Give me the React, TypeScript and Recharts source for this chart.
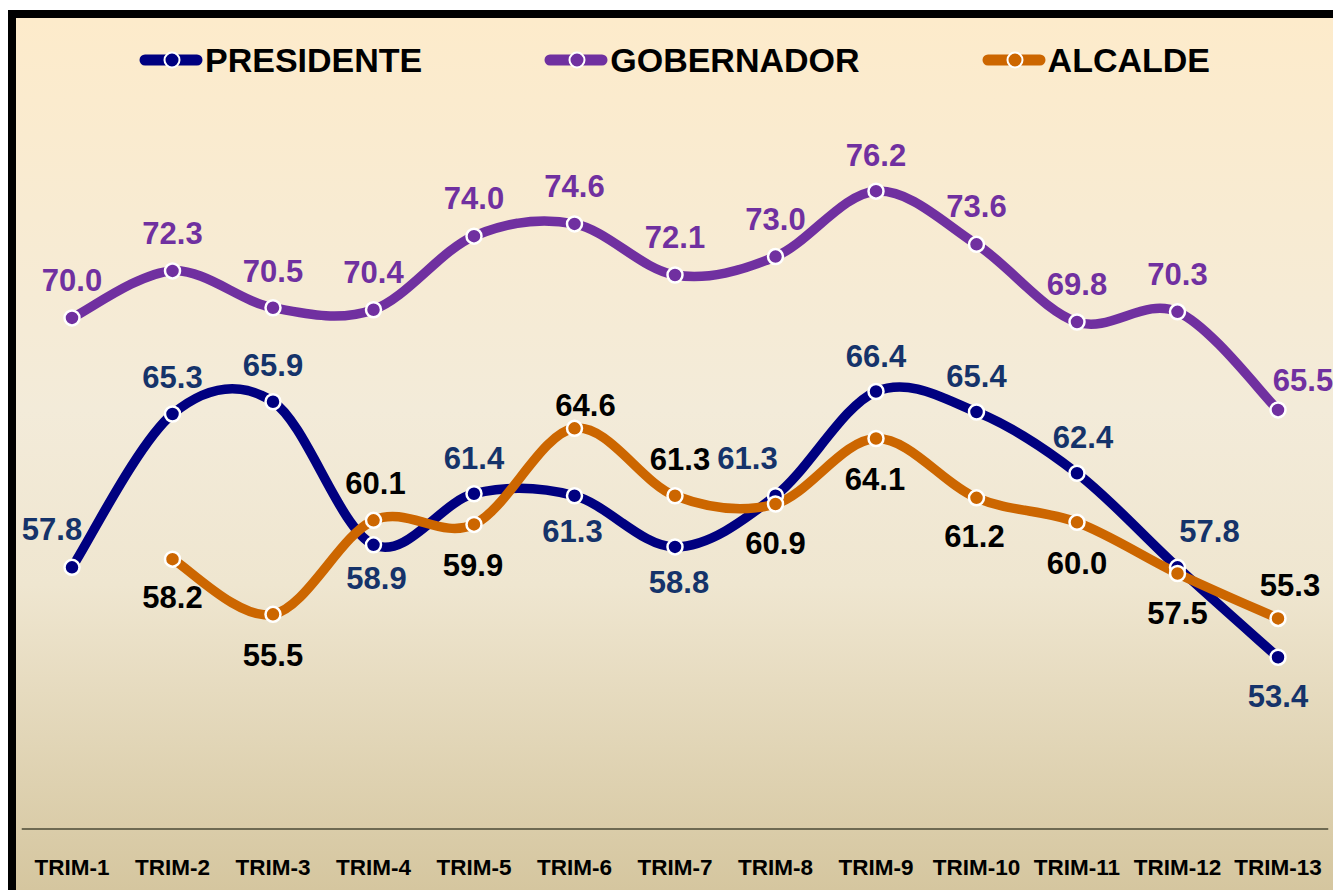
import { LineChart, Line, XAxis, YAxis, Legend, LabelList } from "recharts";

const trimestres = [
  "TRIM-1", "TRIM-2", "TRIM-3", "TRIM-4", "TRIM-5", "TRIM-6", "TRIM-7",
  "TRIM-8", "TRIM-9", "TRIM-10", "TRIM-11", "TRIM-12", "TRIM-13",
];
const presidente = [57.8, 65.3, 65.9, 58.9, 61.4, 61.3, 58.8, 61.3, 66.4, 65.4, 62.4, 57.8, 53.4];
const gobernador = [70.0, 72.3, 70.5, 70.4, 74.0, 74.6, 72.1, 73.0, 76.2, 73.6, 69.8, 70.3, 65.5];
const alcalde = [null, 58.2, 55.5, 60.1, 59.9, 64.6, 61.3, 60.9, 64.1, 61.2, 60.0, 57.5, 55.3];

const data = trimestres.map((trim, i) => ({
  trim,
  presidente: presidente[i],
  gobernador: gobernador[i],
  alcalde: alcalde[i],
}));

// label placement (dx, dy from the point), like the hand-placed labels of the original
const presidenteLabelPos = [
  [-20, -38], [0, -37], [0, -37], [3, 33], [0, -36], [-2, 35], [4, 35],
  [-28, -38], [0, -36], [0, -36], [6, -36], [32, -36], [0, 39],
];
const gobernadorLabelPos = [
  [0, -38], [0, -38], [0, -37], [0, -38], [0, -38], [0, -38], [0, -38],
  [0, -38], [0, -36], [0, -38], [0, -38], [0, -38], [25, -30],
];
const alcaldeLabelPos = [
  [0, 0], [0, 38], [0, 40], [2, -37], [-1, 40], [11, -23], [5, -37],
  [0, 39], [-1, 40], [-2, 38], [0, 40], [0, 39], [12, -34],
];

const FONT = "'Liberation Sans', Arial, sans-serif";

const SERIES = [
  { key: "presidente", name: "PRESIDENTE", color: "#000080", labelColor: "#15336A", pos: presidenteLabelPos },
  { key: "gobernador", name: "GOBERNADOR", color: "#7030A0", labelColor: "#7030A0", pos: gobernadorLabelPos },
  { key: "alcalde", name: "ALCALDE", color: "#CC6600", labelColor: "#000000", pos: alcaldeLabelPos },
];

// Excel-like smoothed line (Catmull-Rom through the points)
function smoothCurve(context: any) {
  let pts: number[][] = [];
  return {
    areaStart() {},
    areaEnd() {},
    lineStart() {
      pts = [];
    },
    point(x: number, y: number) {
      pts.push([+x, +y]);
    },
    lineEnd() {
      if (!pts.length) return;
      context.moveTo(pts[0][0], pts[0][1]);
      if (pts.length === 1) {
        context.lineTo(pts[0][0], pts[0][1]);
        return;
      }
      for (let i = 0; i < pts.length - 1; i++) {
        const p0 = pts[i - 1] || pts[i];
        const p1 = pts[i];
        const p2 = pts[i + 1];
        const p3 = pts[i + 2] || p2;
        context.bezierCurveTo(
          p1[0] + (p2[0] - p0[0]) / 6,
          p1[1] + (p2[1] - p0[1]) / 6,
          p2[0] - (p3[0] - p1[0]) / 6,
          p2[1] - (p3[1] - p1[1]) / 6,
          p2[0],
          p2[1]
        );
      }
    },
  };
}

function makeLabel(color: string, pos: number[][]) {
  return (props: any) => {
    const { value, index } = props;
    if (value === null || value === undefined) return null;
    const x = props.viewBox?.x ?? props.x;
    const y = props.viewBox?.y ?? props.y;
    if (x == null || y == null || isNaN(y)) return null;
    const [dx, dy] = pos[index] || [0, -36];
    return (
      <text
        x={x + dx}
        y={y + dy}
        dy="0.36em"
        textAnchor="middle"
        fill={color}
        fontFamily={FONT}
        fontSize={31}
        fontWeight={700}
      >
        {Number(value).toFixed(1)}
      </text>
    );
  };
}

function SeriesLegend() {
  return (
    <div
      style={{
        display: "flex",
        justifyContent: "center",
        alignItems: "center",
        gap: 122,
        height: 40,
        fontFamily: FONT,
      }}
    >
      {SERIES.map((s) => (
        <div key={s.key} style={{ display: "flex", alignItems: "center" }}>
          <svg width={64} height={20}>
            <line x1={6} y1={10} x2={58} y2={10} stroke={s.color} strokeWidth={11} strokeLinecap="round" />
            <circle cx={33} cy={10} r={7.5} fill={s.color} stroke="#fff" strokeWidth={2} />
          </svg>
          <span style={{ fontSize: 34, fontWeight: 700, color: "#000", marginLeft: 2, lineHeight: "40px" }}>
            {s.name}
          </span>
        </div>
      ))}
    </div>
  );
}

export default function App() {
  return (
    <div
      style={{
        position: "fixed",
        top: 10,
        left: 8,
        width: 1325,
        height: 880,
        boxSizing: "border-box",
        borderTop: "8px solid #000",
        borderLeft: "8px solid #000",
        overflow: "hidden",
        background: "linear-gradient(to bottom, #FDEBCB 0%, #F3EBD9 45%, #EFE6D0 65%, #D5C69F 100%)",
      }}
    >
      <LineChart
        width={1317}
        height={872}
        data={data}
        margin={{ top: 95.5, right: 4.75, left: 5.75, bottom: 0 }}
      >
        <XAxis
          dataKey="trim"
          interval={0}
          height={61}
          padding={{ left: 50.25, right: 50.25 }}
          axisLine={{ stroke: "#6E6A52", strokeWidth: 2 }}
          tickLine={false}
          tickSize={0}
          tickMargin={30}
          tick={{ fill: "#000", fontSize: 22.5, fontWeight: 700, fontFamily: FONT }}
        />
        <YAxis hide domain={[45, 80]} />
        <Legend
          verticalAlign="middle"
          content={() => <SeriesLegend />}
          wrapperStyle={{ top: 22, left: 0, width: 1317 }}
        />
        {SERIES.map((s) => (
          <Line
            key={s.key}
            dataKey={s.key}
            name={s.name}
            type={smoothCurve as any}
            stroke={s.color}
            strokeWidth={9.5}
            strokeLinecap="round"
            dot={{ r: 7.5, fill: s.color, stroke: "#fff", strokeWidth: 2.5 }}
            activeDot={false}
            isAnimationActive={false}
          >
            <LabelList dataKey={s.key} content={makeLabel(s.labelColor, s.pos)} />
          </Line>
        ))}
      </LineChart>
    </div>
  );
}
